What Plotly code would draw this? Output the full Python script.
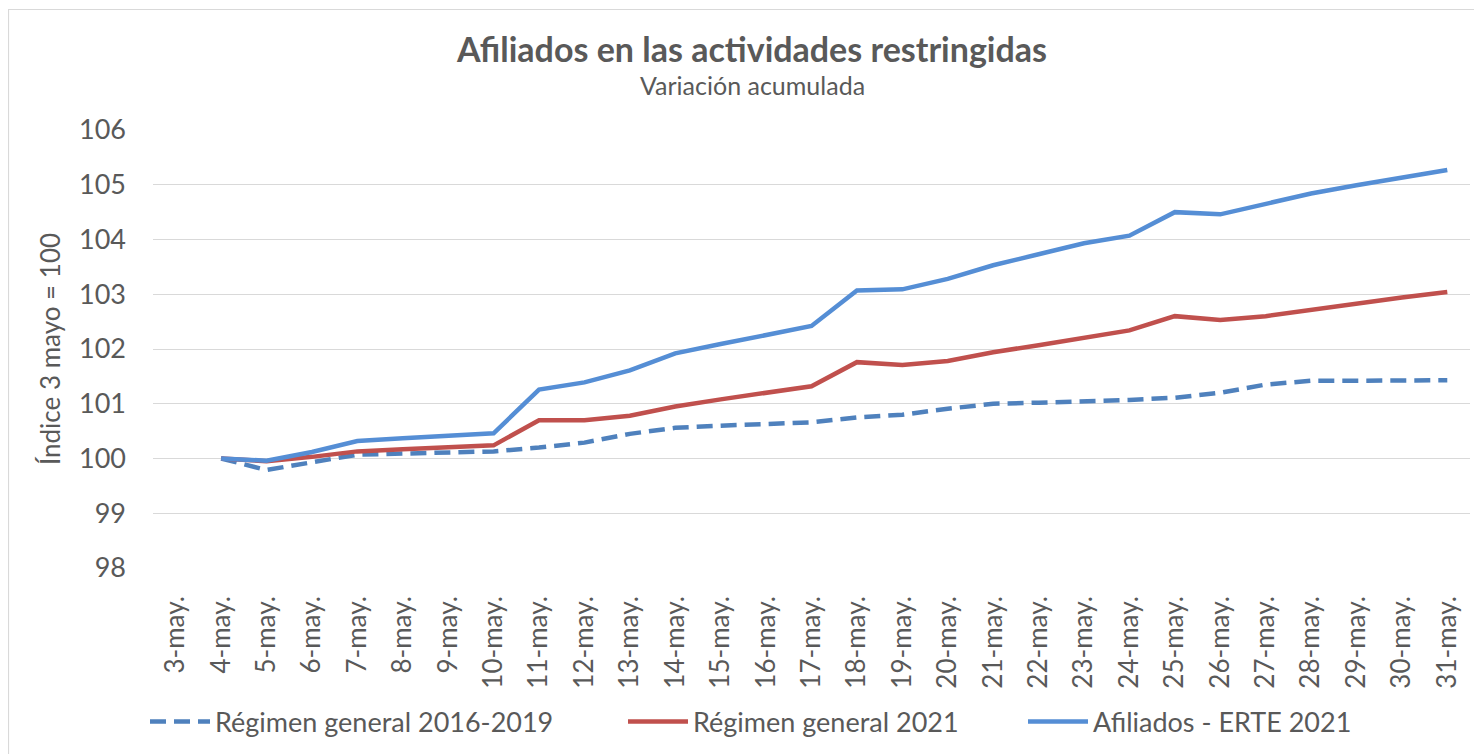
import plotly.graph_objects as go

categories = [f"{d}-may." for d in range(3, 32)]
data_days = [f"{d}-may." for d in range(4, 32)]

regimen_2016_2019 = [100.00, 99.79, 99.93, 100.07, 100.09, 100.11, 100.13, 100.20, 100.29,
                     100.45, 100.56, 100.60, 100.62, 100.66, 100.75, 100.80, 100.91, 101.00,
                     101.02, 101.04, 101.07, 101.11, 101.20, 101.35, 101.42, 101.42, 101.43, 101.43]
regimen_2021 = [100.00, 99.95, 100.03, 100.13, 100.17, 100.20, 100.24, 100.70, 100.70,
                100.78, 100.95, 101.08, 101.20, 101.32, 101.76, 101.71, 101.78, 101.94,
                102.07, 102.21, 102.34, 102.60, 102.53, 102.60, 102.72, 102.83, 102.94, 103.04]
afiliados_erte_2021 = [100.00, 99.96, 100.12, 100.32, 100.37, 100.41, 100.46, 101.26, 101.39,
                       101.61, 101.92, 102.09, 102.25, 102.42, 103.07, 103.09, 103.28, 103.53,
                       103.73, 103.93, 104.07, 104.50, 104.46, 104.64, 104.84, 104.99, 105.12, 105.27]

y_ticks = [98, 99, 100, 101, 102, 103, 104, 105, 106]

FONT = "Lato"
GRAY = "#595959"

fig = go.Figure()
fig.add_trace(go.Scatter(x=data_days, y=regimen_2016_2019, mode="lines",
                         name="Régimen general 2016-2019", legend="legend",
                         line=dict(color="#4F81BD", width=4.5, dash="16px,8px")))
fig.add_trace(go.Scatter(x=data_days, y=regimen_2021, mode="lines",
                         name="Régimen general 2021", legend="legend2",
                         line=dict(color="#C0504D", width=4.5)))
fig.add_trace(go.Scatter(x=data_days, y=afiliados_erte_2021, mode="lines",
                         name="Afiliados - ERTE 2021", legend="legend3",
                         line=dict(color="#558ED5", width=4.5)))

W, H = 1482, 754
OFF = 8  # page body margin
L, R, T, B = 153 - OFF, 1482 - (1470 - OFF), 130 - OFF, 754 - (568 - OFF)
pw, ph = W - L - R, H - T - B

def px(x):
    return (x - OFF - L) / pw

def py(y):
    return (H - B - (y - OFF)) / ph

def leg(xpage):
    return dict(orientation="h", x=px(xpage), xanchor="left", y=py(722), yanchor="middle",
                font=dict(size=27, color=GRAY, family=FONT), itemwidth=60,
                bgcolor="rgba(0,0,0,0)")

fig.update_layout(
    width=W, height=H,
    margin=dict(l=L, r=R, t=T, b=B),
    paper_bgcolor="white", plot_bgcolor="white",
    font=dict(family=FONT, color=GRAY),
    showlegend=True,
    legend=leg(145),
    legend2=leg(623),
    legend3=leg(1023),
    xaxis=dict(type="category", categoryorder="array", categoryarray=categories,
               range=[-0.5, len(categories) - 0.5], tickangle=-90,
               tickfont=dict(size=26, color=GRAY), ticks="", showgrid=False,
               showline=False, zeroline=False, ticklabelstandoff=22),
    yaxis=dict(range=[98, 106], tickvals=y_ticks, ticktext=[str(v) for v in y_ticks],
               tickfont=dict(size=27, color=GRAY), gridcolor="#D9D9D9", gridwidth=1,
               showline=False, zeroline=False, ticks="", ticklabelstandoff=26,
               title=dict(text="Índice 3 mayo = 100", font=dict(size=26, color=GRAY), standoff=10)),
    annotations=[
        dict(text="<b>Afiliados en las actividades restringidas</b>", xref="paper", yref="paper",
             x=px(751), y=py(48), xanchor="center", yanchor="middle", showarrow=False,
             font=dict(size=34, color=GRAY)),
        dict(text="Variación acumulada", xref="paper", yref="paper",
             x=px(752), y=py(85), xanchor="center", yanchor="middle", showarrow=False,
             font=dict(size=25, color=GRAY)),
    ],
    shapes=[dict(type="rect", xref="paper", yref="paper",
                 x0=px(8.5), x1=px(1500), y0=py(780), y1=py(9.5),
                 line=dict(color="#D9D9D9", width=1.2), fillcolor="rgba(0,0,0,0)", layer="below")],
)

fig.write_html("out.html")
